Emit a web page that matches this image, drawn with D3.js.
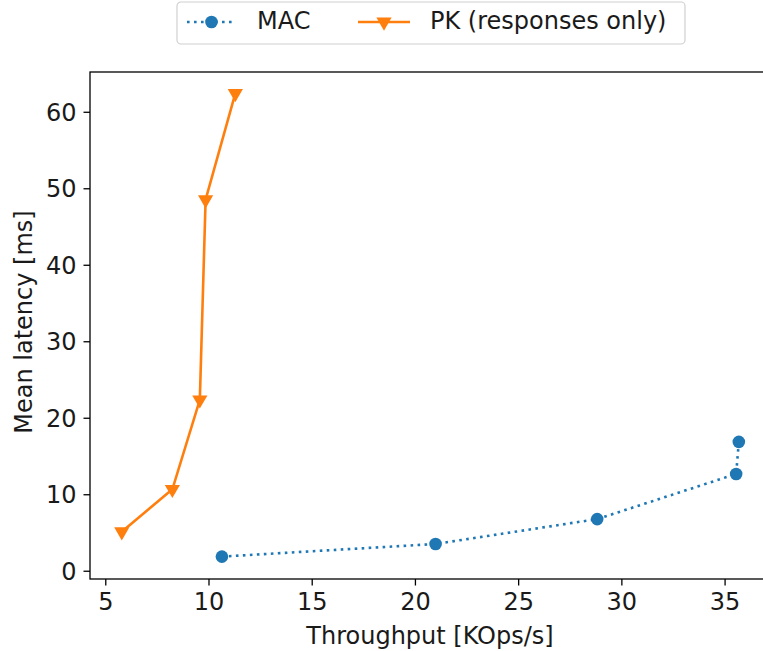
<!DOCTYPE html>
<html>
<head>
<meta charset="utf-8">
<script src="https://cdn.jsdelivr.net/npm/d3@7"></script>
<style>
  html, body { margin: 0; padding: 0; background: #fff; overflow: hidden; }
  svg { display: block; font-family: "DejaVu Sans", sans-serif; }
</style>
</head>
<body>
<svg id="chart" width="763" height="651"></svg>
<script>
// Throughput (KOps/s) and mean latency (ms) per configuration
const macThroughput = [10.65, 21.0, 28.83, 35.56, 35.69];
const macLatency    = [1.85, 3.5, 6.75, 12.65, 16.85];
const pkThroughput  = [5.8, 8.25, 9.58, 9.86, 11.3];
const pkLatency     = [5.1, 10.65, 22.35, 48.5, 62.4];

const xTicks = [5, 10, 15, 20, 25, 30, 35];
const yTicks = [0, 10, 20, 30, 40, 50, 60];

const seriesNames = ["MAC", "PK (responses only)"];
const colors = ["#1f77b4", "#ff7f0e"];

const FONT = 24;
const margin = { left: 90, top: 72, right: 770, bottom: 579 };

const svg = d3.select("#chart");

const x = d3.scaleLinear().domain([4.26, 37.2]).range([margin.left, margin.right]);
const y = d3.scaleLinear().domain([-1.08, 65.2]).range([margin.bottom, margin.top]);

// Axes frame
svg.append("rect")
  .attr("x", margin.left).attr("y", margin.top)
  .attr("width", margin.right - margin.left).attr("height", margin.bottom - margin.top)
  .attr("fill", "none").attr("stroke", "#000").attr("stroke-width", 1.3);

const xAxis = d3.axisBottom(x).tickValues(xTicks).tickSize(6.5).tickPadding(7).tickFormat(d3.format("d"));
const yAxis = d3.axisLeft(y).tickValues(yTicks).tickSize(6.5).tickPadding(7).tickFormat(d3.format("d"));

const gx = svg.append("g").attr("transform", `translate(0,${margin.bottom})`).call(xAxis);
const gy = svg.append("g").attr("transform", `translate(${margin.left},0)`).call(yAxis);
[gx, gy].forEach(g => {
  g.select(".domain").remove();
  g.selectAll(".tick line").attr("stroke", "#000").attr("stroke-width", 1.3);
  g.selectAll(".tick text").attr("fill", "#1a1a1a").style("font-size", FONT + "px")
    .style("font-family", "DejaVu Sans");
});
gx.selectAll(".tick text").attr("dy", "0.74em");
gy.selectAll(".tick text").attr("dy", "0.35em");

// Axis labels
svg.append("text")
  .attr("x", (margin.left + margin.right) / 2).attr("y", 643.5)
  .attr("text-anchor", "middle").attr("fill", "#1a1a1a")
  .style("font-size", FONT + "px").text("Throughput [KOps/s]");

svg.append("text")
  .attr("transform", `translate(31.5,${(margin.top + margin.bottom) / 2 - 3.5}) rotate(-90)`)
  .attr("text-anchor", "middle").attr("fill", "#1a1a1a")
  .style("font-size", FONT + "px").text("Mean latency [ms]");

const line = d3.line().x(d => x(d[0])).y(d => y(d[1]));
const macData = d3.zip(macThroughput, macLatency);
const pkData = d3.zip(pkThroughput, pkLatency);

const tri = d3.symbol().type(d3.symbolTriangle).size(100);

// MAC: dotted line with circle markers
svg.append("path").datum(macData).attr("d", line)
  .attr("fill", "none").attr("stroke", colors[0]).attr("stroke-width", 2.6)
  .attr("stroke-dasharray", "2.6,4.4");
svg.selectAll(".mac").data(macData).join("circle")
  .attr("cx", d => x(d[0])).attr("cy", d => y(d[1])).attr("r", 6.3)
  .attr("fill", colors[0]);

// PK: solid line with downward triangles
svg.append("path").datum(pkData).attr("d", line)
  .attr("fill", "none").attr("stroke", colors[1]).attr("stroke-width", 2.6);
svg.selectAll(".pk").data(pkData).join("path")
  .attr("d", tri)
  .attr("transform", d => `translate(${x(d[0])},${y(d[1])}) rotate(180)`)
  .attr("fill", colors[1]);

// Legend
const lg = svg.append("g");
lg.append("rect").attr("x", 177).attr("y", 2).attr("width", 508).attr("height", 42)
  .attr("rx", 4).attr("fill", "#fff").attr("fill-opacity", 0.8)
  .attr("stroke", "#d0d0d0").attr("stroke-width", 1.2);

const legendItems = [
  { x0: 187, x1: 236, text: 257 },
  { x0: 358, x1: 410, text: 430 }
];
const ly = 22;
// MAC entry
lg.append("line").attr("x1", legendItems[0].x0).attr("x2", legendItems[0].x1)
  .attr("y1", ly).attr("y2", ly).attr("stroke", colors[0]).attr("stroke-width", 2.6)
  .attr("stroke-dasharray", "2.6,4.4");
lg.append("circle").attr("cx", (legendItems[0].x0 + legendItems[0].x1) / 2).attr("cy", ly)
  .attr("r", 6.3).attr("fill", colors[0]);
// PK entry
lg.append("line").attr("x1", legendItems[1].x0).attr("x2", legendItems[1].x1)
  .attr("y1", ly).attr("y2", ly).attr("stroke", colors[1]).attr("stroke-width", 2.6);
lg.append("path").attr("d", tri)
  .attr("transform", `translate(${(legendItems[1].x0 + legendItems[1].x1) / 2},${ly}) rotate(180)`)
  .attr("fill", colors[1]);

seriesNames.forEach((name, i) => {
  lg.append("text").attr("x", legendItems[i].text).attr("y", 29)
    .attr("fill", "#1a1a1a").style("font-size", FONT + "px").text(name);
});
</script>
</body>
</html>
